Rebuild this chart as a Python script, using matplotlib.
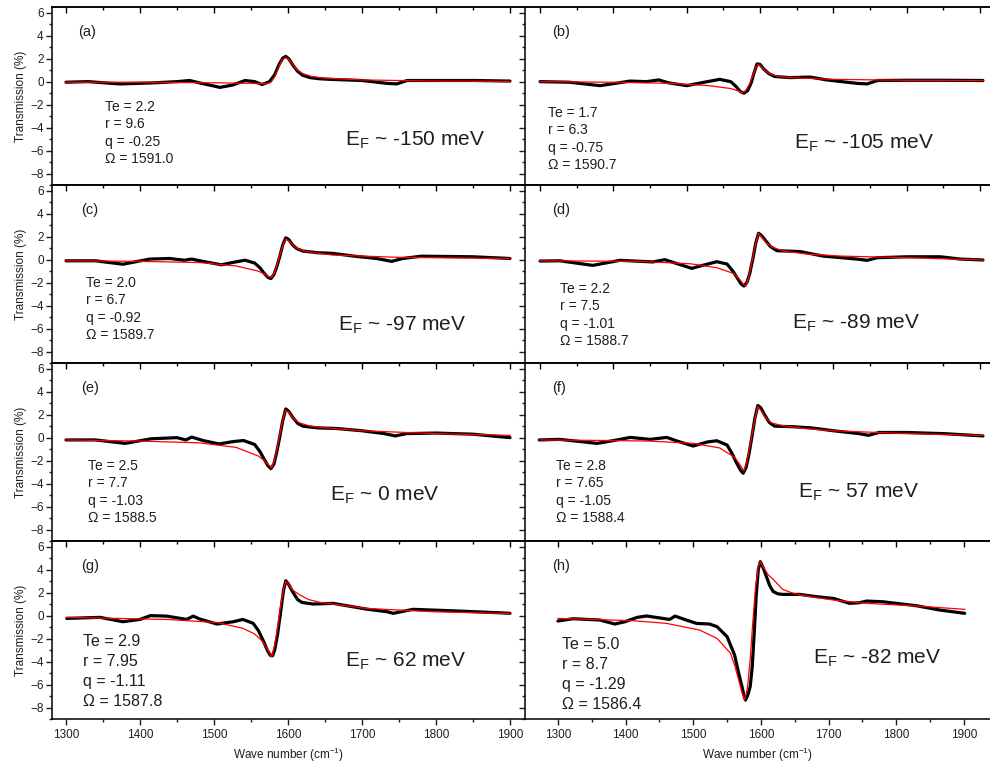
import numpy as np
import matplotlib
matplotlib.use('Agg')
from matplotlib import pyplot as plt
from matplotlib.ticker import MultipleLocator

plt.rcParams['font.family'] = ['Liberation Sans', 'DejaVu Sans']
plt.rcParams['mathtext.fontset'] = 'custom'
plt.rcParams['mathtext.rm'] = 'Liberation Sans'

# ---------------- data ----------------
# (a)
a_wn = [1300, 1330, 1373, 1420, 1450, 1467, 1480, 1508, 1525, 1542, 1555, 1565, 1575, 1582, 1588,
        1593, 1597, 1601, 1607, 1613, 1620, 1630, 1643, 1657, 1700, 1734, 1747, 1761, 1800, 1850, 1900]
a_T = [-0.05, 0.0, -0.2, -0.1, 0.0, 0.1, -0.1, -0.5, -0.3, 0.1, 0.0, -0.25, 0.0, 0.6, 1.5,
       2.05, 2.2, 2.0, 1.4, 0.9, 0.55, 0.35, 0.25, 0.2, 0.1, -0.15, -0.2, 0.1, 0.1, 0.1, 0.05]
a_fit_wn = [1300, 1400, 1500, 1550, 1570, 1577, 1582, 1587, 1592, 1596, 1600, 1605, 1612, 1620,
            1632, 1650, 1700, 1800, 1900]
a_fit = [-0.05, -0.05, -0.1, -0.15, -0.2, -0.05, 0.4, 1.2, 1.9, 2.1, 2.0, 1.6, 1.05, 0.7,
         0.45, 0.3, 0.15, 0.05, 0.02]

# (b)
b_wn = [1300, 1340, 1382, 1423, 1445, 1462, 1475, 1500, 1520, 1545, 1560, 1567, 1573, 1578, 1583,
        1588, 1592, 1596, 1600, 1605, 1612, 1620, 1641, 1668, 1691, 1732, 1746, 1760, 1800, 1850, 1904]
b_T = [0.0, -0.05, -0.35, 0.05, 0.0, 0.15, -0.1, -0.35, -0.1, 0.2, 0.0, -0.4, -0.85, -1.0, -0.8,
       -0.1, 0.8, 1.55, 1.5, 1.1, 0.7, 0.45, 0.35, 0.4, 0.15, -0.15, -0.2, 0.1, 0.12, 0.12, 0.1]
b_fit_wn = [1300, 1400, 1480, 1530, 1560, 1570, 1576, 1580, 1585, 1590, 1594, 1597, 1601, 1606,
            1613, 1622, 1640, 1700, 1800, 1904]
b_fit = [0.0, -0.05, -0.15, -0.35, -0.6, -0.8, -0.95, -0.8, -0.3, 0.5, 1.2, 1.5, 1.35, 1.0,
         0.7, 0.5, 0.35, 0.2, 0.12, 0.1]

# (c)
c_wn = [1300, 1340, 1377, 1413, 1440, 1460, 1470, 1485, 1510, 1525, 1542, 1555, 1562, 1568, 1573,
        1577, 1581, 1585, 1589, 1593, 1597, 1601, 1606, 1612, 1620, 1640, 1660, 1690, 1720, 1740,
        1755, 1780, 1850, 1900]
c_T = [-0.1, -0.1, -0.4, 0.05, 0.1, -0.05, 0.05, -0.15, -0.45, -0.25, -0.05, -0.3, -0.7, -1.2, -1.55,
       -1.65, -1.3, -0.6, 0.3, 1.3, 1.9, 1.75, 1.3, 0.95, 0.75, 0.6, 0.55, 0.3, 0.1, -0.15,
       0.1, 0.3, 0.25, 0.1]
c_fit_wn = [1300, 1400, 1480, 1530, 1560, 1568, 1574, 1578, 1582, 1586, 1590, 1594, 1597, 1601,
            1607, 1615, 1625, 1660, 1750, 1900]
c_fit = [-0.1, -0.15, -0.25, -0.55, -1.0, -1.25, -1.5, -1.55, -1.1, -0.3, 0.6, 1.4, 1.8, 1.65,
         1.25, 0.9, 0.7, 0.4, 0.2, 0.1]

# (d)
d_wn = [1300, 1327, 1372, 1409, 1454, 1470, 1482, 1507, 1518, 1541, 1555, 1563, 1569, 1574, 1578,
        1582, 1586, 1590, 1594, 1598, 1602, 1607, 1614, 1623, 1655, 1686, 1732, 1746, 1760, 1801,
        1846, 1873, 1904]
d_T = [-0.12, -0.1, -0.5, -0.06, -0.2, 0.0, -0.25, -0.76, -0.56, -0.18, -0.38, -1.0, -1.6, -2.1, -2.3,
       -2.0, -1.2, 0.0, 1.4, 2.3, 2.1, 1.7, 1.15, 0.78, 0.7, 0.31, 0.05, -0.06, 0.17, 0.25,
       0.25, 0.05, -0.03]
d_fit_wn = [1300, 1436, 1505, 1541, 1564, 1572, 1578, 1581, 1585, 1589, 1593, 1598, 1602, 1608,
            1616, 1632, 1664, 1709, 1801, 1904]
d_fit = [-0.1, -0.15, -0.36, -0.7, -1.2, -1.7, -2.2, -2.3, -1.4, -0.2, 1.1, 2.3, 2.0, 1.5,
         1.1, 0.75, 0.49, 0.31, 0.17, -0.03]

# (e)
e_wn = [1300, 1340, 1380, 1415, 1450, 1462, 1470, 1485, 1507, 1525, 1540, 1555, 1562, 1568, 1573,
        1577, 1581, 1585, 1589, 1593, 1597, 1601, 1606, 1613, 1620, 1640, 1665, 1700, 1730, 1745,
        1760, 1800, 1850, 1900]
e_T = [-0.2, -0.2, -0.5, -0.1, 0.0, -0.2, 0.05, -0.25, -0.55, -0.35, -0.25, -0.6, -1.2, -1.9, -2.45,
       -2.7, -2.3, -1.2, 0.1, 1.5, 2.5, 2.3, 1.8, 1.25, 1.0, 0.85, 0.8, 0.6, 0.35, 0.15,
       0.35, 0.4, 0.3, 0.0]
e_fit_wn = [1300, 1400, 1480, 1530, 1560, 1568, 1574, 1578, 1582, 1586, 1590, 1594, 1597, 1601,
            1607, 1615, 1630, 1660, 1700, 1800, 1900]
e_fit = [-0.2, -0.3, -0.45, -0.85, -1.6, -2.0, -2.4, -2.6, -1.9, -0.7, 0.6, 1.8, 2.4, 2.2,
         1.7, 1.3, 1.0, 0.8, 0.6, 0.35, 0.2]

# (f)
f_wn = [1299, 1327, 1378, 1405, 1423, 1450, 1473, 1487, 1509, 1528, 1541, 1555, 1562, 1568, 1573,
        1577, 1581, 1585, 1589, 1593, 1597, 1601, 1606, 1613, 1620, 1645, 1670, 1700, 1735, 1748,
        1762, 1800, 1850, 1904]
f_T = [-0.2, -0.15, -0.5, -0.2, 0.02, -0.15, 0.02, -0.3, -0.73, -0.38, -0.27, -0.64, -1.4, -2.2, -2.8,
       -3.1, -2.6, -1.4, 0.1, 1.7, 2.8, 2.6, 2.0, 1.3, 1.0, 0.95, 0.85, 0.6, 0.35, 0.2,
       0.45, 0.45, 0.35, 0.15]
f_fit_wn = [1300, 1400, 1450, 1510, 1545, 1565, 1571, 1575, 1578, 1582, 1586, 1590, 1594, 1597,
            1601, 1607, 1615, 1630, 1660, 1700, 1800, 1904]
f_fit = [-0.2, -0.25, -0.3, -0.5, -0.9, -1.7, -2.2, -2.6, -2.9, -2.1, -0.8, 0.6, 1.9, 2.7,
         2.4, 1.8, 1.3, 1.05, 0.8, 0.6, 0.35, 0.2]

# (g)
g_wn = [1301, 1346, 1377, 1400, 1414, 1436, 1463, 1472, 1481, 1504, 1526, 1539, 1553, 1560, 1566,
        1572, 1576, 1579, 1582, 1586, 1590, 1594, 1597, 1601, 1607, 1613, 1619, 1634, 1661, 1706,
        1734, 1742, 1769, 1819, 1886, 1900]
g_T = [-0.24, -0.15, -0.53, -0.33, 0.0, -0.04, -0.33, -0.04, -0.3, -0.73, -0.53, -0.33, -0.67, -1.3, -2.1,
       -3.0, -3.45, -3.5, -3.0, -1.6, 0.3, 2.2, 3.04, 2.7, 2.0, 1.4, 1.15, 1.01, 1.07, 0.57,
       0.34, 0.2, 0.55, 0.43, 0.25, 0.2]
g_fit_wn = [1301, 1436, 1504, 1539, 1555, 1566, 1572, 1578, 1582, 1586, 1590, 1594, 1597, 1601,
            1607, 1616, 1628, 1643, 1706, 1796, 1900]
g_fit = [-0.15, -0.33, -0.6, -1.1, -1.6, -2.27, -2.9, -3.6, -2.6, -1.0, 0.8, 2.3, 3.0, 2.7,
         2.2, 1.8, 1.4, 1.16, 0.63, 0.34, 0.18]

# (h)
h_wn = [1300, 1322, 1362, 1384, 1399, 1417, 1431, 1465, 1473, 1490, 1505, 1524, 1535, 1550, 1561,
        1567, 1572, 1575, 1577, 1580, 1584, 1587, 1590, 1593, 1596, 1599, 1603, 1608, 1613, 1618,
        1625, 1632, 1657, 1682, 1707, 1731, 1746, 1756, 1780, 1830, 1864, 1901]
h_T = [-0.47, -0.27, -0.38, -0.73, -0.53, -0.15, -0.03, -0.33, -0.04, -0.39, -0.68, -0.73, -0.96, -1.84, -3.43,
       -5.0, -6.2, -7.0, -7.35, -7.0, -6.2, -4.5, -1.5, 1.8, 4.0, 4.7, 4.2, 3.4, 2.6, 2.1,
       1.9, 1.85, 1.85, 1.65, 1.5, 1.07, 1.13, 1.27, 1.21, 0.86, 0.49, 0.2]
h_fit_wn = [1300, 1411, 1460, 1509, 1535, 1555, 1562, 1567, 1572, 1576, 1580, 1584, 1588, 1592,
            1596, 1599, 1603, 1610, 1618, 1632, 1645, 1657, 1707, 1756, 1830, 1901]
h_fit = [-0.24, -0.44, -0.67, -1.25, -1.98, -3.28, -4.5, -5.6, -6.7, -7.35, -6.3, -3.8, -0.5, 2.5,
         4.3, 4.7, 4.3, 3.6, 3.16, 2.29, 2.0, 1.8, 1.36, 1.07, 0.84, 0.55]

panel_tags = ['(a)', '(b)', '(c)', '(d)', '(e)', '(f)', '(g)', '(h)']
Te_vals = ['2.2', '1.7', '2.0', '2.2', '2.5', '2.8', '2.9', '5.0']
r_vals = ['9.6', '6.3', '6.7', '7.5', '7.7', '7.65', '7.95', '8.7']
q_vals = ['-0.25', '-0.75', '-0.92', '-1.01', '-1.03', '-1.05', '-1.11', '-1.29']
omega_vals = ['1591.0', '1590.7', '1589.7', '1588.7', '1588.5', '1588.4', '1587.8', '1586.4']
EF_labels = ['-150', '-105', '-97', '-89', '0', '57', '62', '-82']

data_wn = [a_wn, b_wn, c_wn, d_wn, e_wn, f_wn, g_wn, h_wn]
data_T = [a_T, b_T, c_T, d_T, e_T, f_T, g_T, h_T]
fit_wn = [a_fit_wn, b_fit_wn, c_fit_wn, d_fit_wn, e_fit_wn, f_fit_wn, g_fit_wn, h_fit_wn]
fit_T = [a_fit, b_fit, c_fit, d_fit, e_fit, f_fit, g_fit, h_fit]

# ---------------- layout ----------------
W, H = 990, 764
fig = plt.figure(figsize=(W/100, H/100), dpi=100)

col_x = [52, 525]
col_w = [473, 465]
row_top = [7, 185, 363, 541]
row_h = 178
xlims = [(1281.1, 1920.3), (1279.5, 1913.6)]
xlim_h = (1251.3, 1938.4)

# text positions (axes fraction) per panel
param_x = [0.112, 0.05, 0.072, 0.076, 0.076, 0.067, 0.066, 0.08]
param_y0 = [0.438, 0.404, 0.449, 0.416, 0.421, 0.421, 0.438, 0.416]
tag_x = [0.055, 0.058, 0.062, 0.058, 0.062, 0.058, 0.062, 0.058]
ef_x = [0.62, 0.579, 0.605, 0.575, 0.588, 0.587, 0.62, 0.62]
ef_y = [0.225, 0.208, 0.185, 0.197, 0.23, 0.247, 0.298, 0.31]
txtc = '#1e1e1e'

for i in range(8):
    row, col = i // 2, i % 2
    left = col_x[col] / W
    bottom = 1 - (row_top[row] + row_h) / H
    ax = fig.add_axes([left, bottom, col_w[col] / W, row_h / H])

    ax.plot(data_wn[i], data_T[i], color='black', lw=2.3, solid_joinstyle='round',
            solid_capstyle='round', zorder=2)
    ax.plot(fit_wn[i], fit_T[i], color='red', lw=0.9, zorder=3)

    ax.set_xlim(xlim_h if i == 7 else xlims[col])
    ax.set_ylim(-9, 6.5)
    ax.xaxis.set_major_locator(MultipleLocator(100))
    ax.xaxis.set_minor_locator(MultipleLocator(50))
    ax.yaxis.set_major_locator(MultipleLocator(2))
    ax.yaxis.set_minor_locator(MultipleLocator(1))

    for s in ax.spines.values():
        s.set_linewidth(1.1)
    ax.spines['right'].set_visible(False)

    bottom_row = (row == 3)
    ax.tick_params(axis='x', which='both', top=False, bottom=bottom_row,
                   labelbottom=bottom_row, direction='out', colors=txtc, labelsize=8.5)
    ax.tick_params(axis='x', which='major', length=4, width=1)
    ax.tick_params(axis='x', which='minor', length=2.5, width=1)

    # inward ticks along the top edge
    top = ax.secondary_xaxis('top')
    top.xaxis.set_major_locator(MultipleLocator(100))
    top.xaxis.set_minor_locator(MultipleLocator(50))
    top.tick_params(axis='x', which='both', direction='in', labeltop=False, width=1)
    top.tick_params(axis='x', which='major', length=4)
    top.tick_params(axis='x', which='minor', length=2.5)
    top.spines['top'].set_linewidth(1.1)

    ax.tick_params(axis='y', which='both', direction='out', left=True, right=False,
                   labelleft=(col == 0), colors=txtc, labelsize=8.5, pad=2)
    ax.tick_params(axis='y', which='major', length=4, width=1)
    ax.tick_params(axis='y', which='minor', length=2.5, width=1)
    if col == 0:
        ax.set_ylabel('Transmission (%)', fontsize=8.5, color=txtc, labelpad=2)

    if bottom_row:
        ax.set_xlabel('Wave number (cm$^{-1}$)', fontsize=8.5, color=txtc, labelpad=3)

    big = i >= 6
    fs = 11.5 if big else 10
    dy = (20 if big else 17.3) / row_h
    ax.text(tag_x[i], 0.86, panel_tags[i], transform=ax.transAxes,
            fontsize=10.5, color=txtc, va='center')
    lines = ['Te = ' + Te_vals[i], 'r = ' + r_vals[i], 'q = ' + q_vals[i],
             '\u03a9 = ' + omega_vals[i]]
    for k, s in enumerate(lines):
        ax.text(param_x[i], param_y0[i] - k * dy, s, transform=ax.transAxes,
                fontsize=fs, color=txtc, va='center')
    ax.text(ef_x[i], ef_y[i], 'E$_\\mathregular{F}$ ~ ' + EF_labels[i] + ' meV',
            transform=ax.transAxes, fontsize=15, color=txtc, va='baseline')

fig.savefig('out.png', dpi=100)
